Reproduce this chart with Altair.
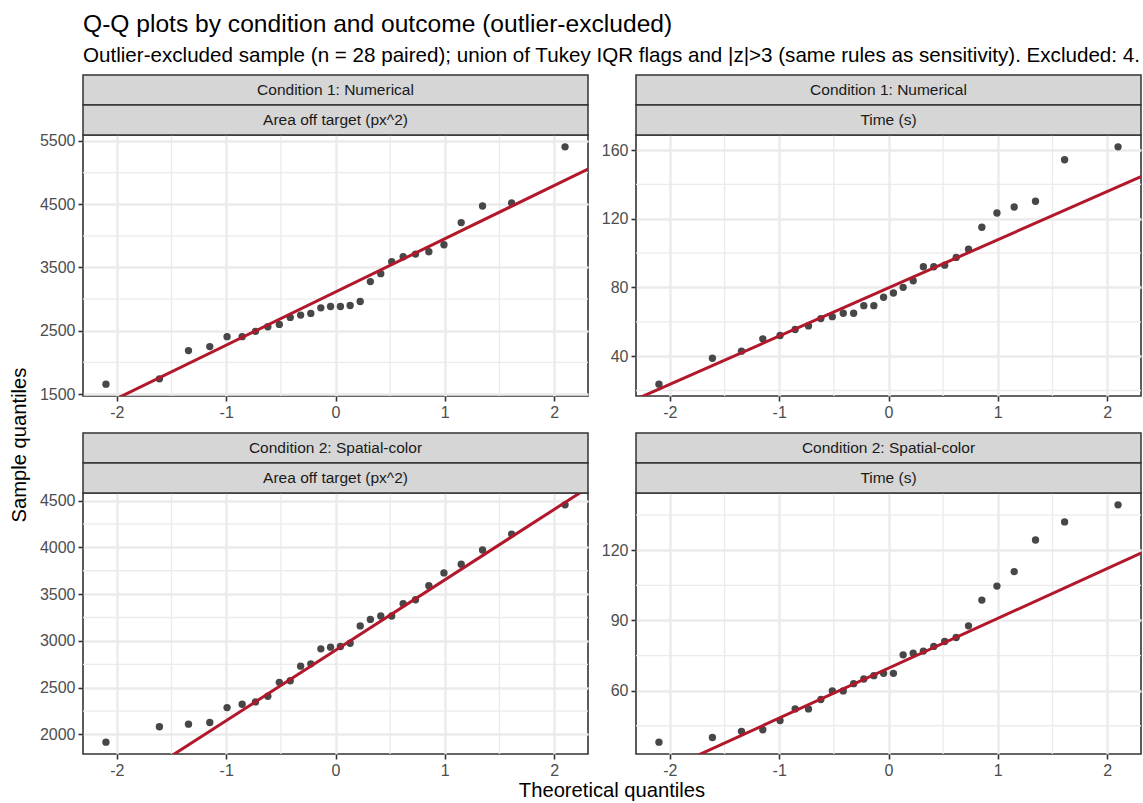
import altair as alt
import numpy as np
import pandas as pd
from statistics import NormalDist

FONT = "Liberation Sans"
W, H = 505, 261
COL_GAP, ROW_GAP = 48, 97
STRIP_H = 30

TITLE = "Q-Q plots by condition and outcome (outlier-excluded)"
SUBTITLE = ("Outlier-excluded sample (n = 28 paired); union of Tukey IQR flags and |z|>3 "
            "(same rules as sensitivity). Excluded: 4.")
X_TITLE = "Theoretical quantiles"
Y_TITLE = "Sample quantiles"

CONDITIONS = ["Condition 1: Numerical", "Condition 2: Spatial-color"]
OUTCOMES = ["Area off target (px^2)", "Time (s)"]

# theoretical normal quantiles for n = 28
THEO = [-2.100, -1.611, -1.345, -1.150, -0.992, -0.854, -0.732, -0.619, -0.514, -0.414,
        -0.319, -0.226, -0.134, -0.045, 0.045, 0.134, 0.226, 0.319, 0.414, 0.514,
        0.619, 0.732, 0.854, 0.992, 1.150, 1.345, 1.611, 2.100]

AREA_C1 = [1657, 1741, 2187, 2250, 2407, 2407, 2491, 2564, 2601, 2711, 2748, 2774, 2863, 2884,
           2884, 2900, 2963, 3277, 3403, 3592, 3670, 3712, 3749, 3859, 4210, 4472, 4520, 5406]
TIME_C1 = [23.7, 38.8, 42.9, 50.1, 52.0, 55.5, 57.6, 61.9, 63.0, 65.0, 65.0, 69.4, 69.4, 74.3,
           76.8, 80.1, 83.9, 92.1, 92.1, 93.0, 97.5, 102.3, 115.1, 123.4, 126.9, 130.2, 154.4, 161.9]
AREA_C2 = [1918, 2082, 2110, 2128, 2287, 2323, 2348, 2408, 2557, 2574, 2730, 2755, 2915, 2933,
           2940, 2975, 3160, 3230, 3266, 3266, 3397, 3440, 3589, 3727, 3819, 3972, 4142, 4454]
TIME_C2 = [38.0, 40.0, 42.6, 43.3, 47.2, 52.2, 52.2, 56.2, 59.9, 59.9, 63.0, 65.0, 66.4, 67.4,
           67.4, 75.3, 76.0, 76.9, 78.9, 81.0, 82.7, 87.7, 98.7, 104.7, 110.9, 124.4, 132.1, 139.4]

X_MAJOR = [-2, -1, 0, 1, 2]
X_MINOR = [-1.5, -0.5, 0.5, 1.5]
Y_MAJOR_AREA_C1 = [1500, 2500, 3500, 4500, 5500]
Y_MINOR_AREA_C1 = [2000, 3000, 4000, 5000]
Y_MAJOR_TIME_C1 = [40, 80, 120, 160]
Y_MINOR_TIME_C1 = [20, 60, 100, 140]
Y_MAJOR_AREA_C2 = [2000, 2500, 3000, 3500, 4000, 4500]
Y_MINOR_AREA_C2 = [2250, 2750, 3250, 3750, 4250]
Y_MAJOR_TIME_C2 = [60, 90, 120]
Y_MINOR_TIME_C2 = [45, 75, 105, 135]

Z25 = NormalDist().inv_cdf(0.25)
Z75 = NormalDist().inv_cdf(0.75)

ONE = pd.DataFrame({"k": [0]})


def txt(s, x, y, size, color="#000000", align="left", baseline="alphabetic", angle=0):
    kw = dict(font=FONT, fontSize=size, color=color, align=align, baseline=baseline)
    if angle:
        kw["angle"] = angle
    return alt.Chart(ONE).mark_text(**kw).encode(
        x=alt.value(x), y=alt.value(y), text=alt.value(s))


def panel(cond, outcome, values, y_major, y_minor, extras=()):
    lo, hi = min(values), max(values)
    pad = 0.05 * (hi - lo)
    ydom = [lo - pad, hi + pad]
    xlo, xhi = min(THEO), max(THEO)
    xpad = 0.05 * (xhi - xlo)
    xdom = [xlo - xpad, xhi + xpad]
    xs = alt.Scale(domain=xdom, nice=False, zero=False)
    ys = alt.Scale(domain=ydom, nice=False, zero=False)
    xax = alt.Axis(values=X_MAJOR, title=None, labelExpr="'' + datum.value")
    yax = alt.Axis(values=y_major, title=None, labelExpr="'' + datum.value")

    minor_y = alt.Chart(pd.DataFrame({"v": y_minor})).mark_rule(
        color="#EBEBEB", strokeWidth=1.3).encode(y=alt.Y("v:Q", scale=ys, axis=yax))
    minor_x = alt.Chart(pd.DataFrame({"u": X_MINOR})).mark_rule(
        color="#EBEBEB", strokeWidth=1.3).encode(x=alt.X("u:Q", scale=xs, axis=xax))

    df = pd.DataFrame({"theo": THEO, "sample": values})
    pts = alt.Chart(df).mark_circle(size=54, color="#474747", opacity=1).encode(
        x=alt.X("theo:Q", scale=xs, axis=xax),
        y=alt.Y("sample:Q", scale=ys, axis=yax))

    q1, q3 = np.quantile(values, [0.25, 0.75])
    slope = (q3 - q1) / (Z75 - Z25)
    inter = q1 - slope * Z25
    line_df = pd.DataFrame({"theo": xdom, "fit": [inter + slope * x for x in xdom]})
    line = alt.Chart(line_df).mark_line(color="#B2182B", strokeWidth=3, clip=True).encode(
        x=alt.X("theo:Q", scale=xs, axis=xax),
        y=alt.Y("fit:Q", scale=ys, axis=yax))

    strip1 = alt.Chart(ONE).mark_rect(fill="#D6D6D6", stroke="#333333", strokeWidth=1.5).encode(
        x=alt.value(0), x2=alt.value(W), y=alt.value(-2 * STRIP_H), y2=alt.value(-STRIP_H))
    strip2 = alt.Chart(ONE).mark_rect(fill="#D6D6D6", stroke="#333333", strokeWidth=1.5).encode(
        x=alt.value(0), x2=alt.value(W), y=alt.value(-STRIP_H), y2=alt.value(0))
    t1 = txt(cond, W / 2, -1.5 * STRIP_H, 15.5, "#1A1A1A", "center", "middle")
    t2 = txt(outcome, W / 2, -0.5 * STRIP_H, 15.5, "#1A1A1A", "center", "middle")

    return alt.layer(minor_y, minor_x, pts, line, strip1, strip2, t1, t2, *extras).properties(
        width=W, height=H)


corner = alt.Chart(ONE).mark_rect(fill="white").encode(
    x=alt.value(-82), x2=alt.value(-81), y=alt.value(-134), y2=alt.value(-133))
title = txt(TITLE, 0, -103, 24.6)
subtitle = txt(SUBTITLE, 0, -73, 20.6)
ytitle = txt(Y_TITLE, -63, 310, 20.2, angle=270, align="center", baseline="middle")
xtitle = txt(X_TITLE, W + COL_GAP / 2, 304, 20.2, align="center")

p1 = panel(CONDITIONS[0], OUTCOMES[0], AREA_C1, Y_MAJOR_AREA_C1, Y_MINOR_AREA_C1,
           extras=(corner, title, subtitle, ytitle))
p2 = panel(CONDITIONS[0], OUTCOMES[1], TIME_C1, Y_MAJOR_TIME_C1, Y_MINOR_TIME_C1)
p3 = panel(CONDITIONS[1], OUTCOMES[0], AREA_C2, Y_MAJOR_AREA_C2, Y_MINOR_AREA_C2,
           extras=(xtitle,))
p4 = panel(CONDITIONS[1], OUTCOMES[1], TIME_C2, Y_MAJOR_TIME_C2, Y_MINOR_TIME_C2)

chart = alt.concat(
    p1, p2, p3, p4, columns=2,
    spacing={"row": ROW_GAP, "column": COL_GAP},
    bounds="flush",
).properties(padding=0, background="white").configure_view(
    stroke="#333333", strokeWidth=1.6
).configure_axis(
    domain=False,
    grid=True, gridColor="#EBEBEB", gridWidth=2.4,
    ticks=True, tickColor="#333333", tickWidth=1.6, tickSize=5,
    labelFont=FONT, labelFontSize=16, labelColor="#4D4D4D", labelPadding=3,
)

chart.save("out.html", embed_options={"renderer": "svg", "actions": False})
